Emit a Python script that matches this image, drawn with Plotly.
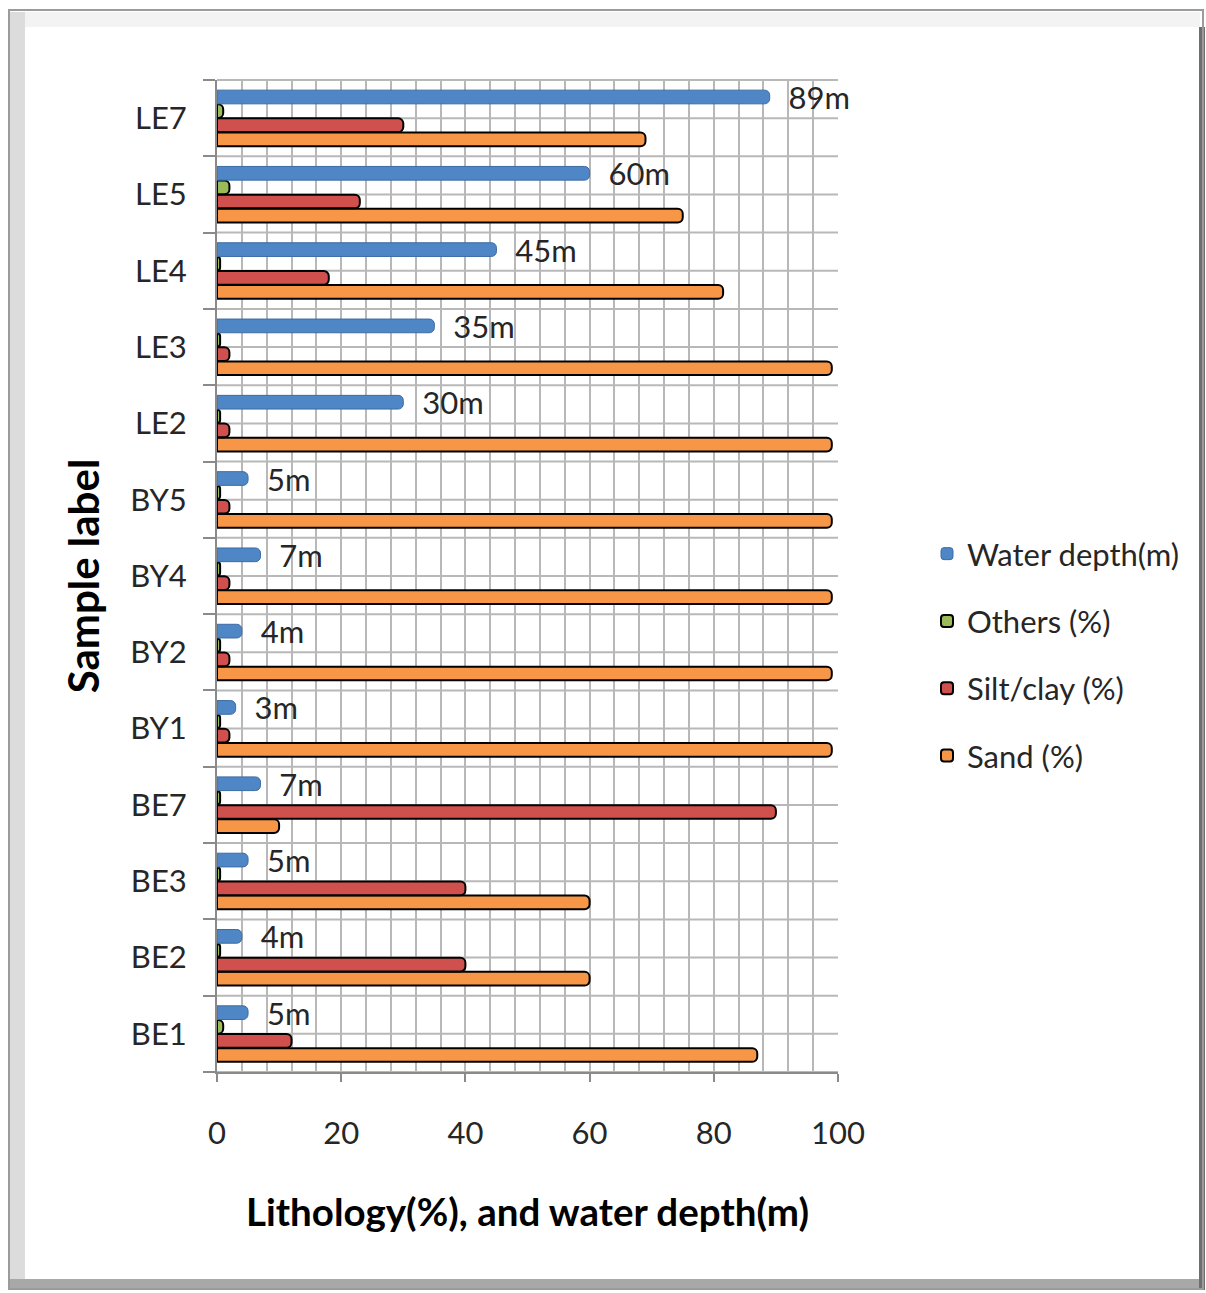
import plotly.graph_objects as go

# ---------------- data ----------------
categories = ["BE1", "BE2", "BE3", "BE7", "BY1", "BY2", "BY4", "BY5",
              "LE2", "LE3", "LE4", "LE5", "LE7"]
sand = [87, 60, 60, 10, 99, 99, 99, 99, 99, 99, 81.5, 75, 69]
silt_clay = [12, 40, 40, 90, 2, 2, 2, 2, 2, 2, 18, 23, 30]
others = [1, 0.5, 0.5, 0.5, 0.5, 0.5, 0.5, 0.5, 0.5, 0.5, 0.5, 2, 1]
water_depth = [5, 4, 5, 7, 3, 4, 7, 5, 30, 35, 45, 60, 89]
x_ticks = [0, 20, 40, 60, 80, 100]

# ---------------- style ----------------
W, H = 1206, 1293
L, R, T, B = 217, 838, 80, 1072   # plot area pixel box
FONT = "Lato, Arial, sans-serif"
TXT = "#262626"
GRID = "#b8b8b8"

def px(x):
    return (x - L) / (R - L)

def py(y):
    return (B - y) / (B - T)

fig = go.Figure()

series = [
    ("Sand (%)", sand, "#F79646", "#000000", 2, 4),
    ("Silt/clay (%)", silt_clay, "#D0504D", "#000000", 2, 3),
    ("Others (%)", others, "#9BBB59", "#000000", 2, 2),
    ("Water depth(m)", water_depth, "#4F86C6", "#3C6BA5", 1, 1),
]
for name, vals, col, lcol, lw, rank in series:
    kw = {}
    if name.startswith("Water"):
        kw = dict(text=["\u00a0\u00a0%gm" % v for v in vals],
                  textposition="outside", constraintext="none",
                  outsidetextfont=dict(family=FONT, size=31, color=TXT),
                  cliponaxis=False)
    fig.add_trace(go.Bar(
        y=categories, x=vals, orientation="h", name=name,
        legendgroup=name, legendrank=rank,
        marker=dict(color=col, line=dict(color=lcol, width=lw), cornerradius=5),
        **kw))

n = len(categories)
fig.update_layout(
    width=W, height=H,
    margin=dict(l=L, r=W - R, t=T, b=H - B, autoexpand=False),
    paper_bgcolor="white", plot_bgcolor="white",
    barmode="group", bargap=0.26, bargroupgap=0.03,
    showlegend=True,
    legend=dict(x=px(927), y=py(655), xanchor="left", yanchor="middle",
                traceorder="grouped", tracegroupgap=24,
                font=dict(family=FONT, size=31, color=TXT),
                bgcolor="rgba(0,0,0,0)"),
    font=dict(family=FONT, color=TXT),
    xaxis=dict(range=[0, 100], tickvals=x_ticks, showgrid=True,
               gridcolor=GRID, gridwidth=2,
               minor=dict(dtick=4, showgrid=True, gridcolor=GRID, gridwidth=2),
               showline=True, linecolor="#8a8a8a", linewidth=2,
               ticks="outside", ticklen=8, tickcolor="#8a8a8a", tickwidth=2,
               ticklabelstandoff=25,
               tickfont=dict(family=FONT, size=31, color=TXT),
               zeroline=False,
               title=dict(text="<b>Lithology(%), and water depth(m)</b>",
                          font=dict(family=FONT, size=38.5, color="#000000"),
                          standoff=49)),
    yaxis=dict(type="category", categoryorder="array", categoryarray=categories,
               showgrid=False, tickson="boundaries",
               showline=True, linecolor="#8a8a8a", linewidth=2,
               ticks="outside", ticklen=12, tickcolor="#8a8a8a", tickwidth=2,
               ticklabelstandoff=22,
               tickfont=dict(family=FONT, size=31, color=TXT),
               title=dict(text="<b>Sample label</b>",
                          font=dict(family=FONT, size=42, color="#000000"),
                          standoff=17)),
)

# ---------------- horizontal grid (category boundaries and mid-lines) ----------------
shapes = []
for k in range(2 * n + 1):
    yy = k / (2 * n)
    shapes.append(dict(type="line", xref="paper", yref="paper", x0=0, x1=1,
                       y0=yy, y1=yy, line=dict(color=GRID, width=2), layer="below"))

# ---------------- chart frame (bevelled border) ----------------
frame = [
    dict(type="rect", x0=px(10), x1=px(25), y0=py(12), y1=py(1280),
         fillcolor="#dcdcdc", line=dict(width=0)),
    dict(type="rect", x0=px(25), x1=px(1200), y0=py(12), y1=py(27),
         fillcolor="#f3f3f3", line=dict(width=0)),
    dict(type="rect", x0=px(10), x1=px(1203), y0=py(1279), y1=py(1290),
         fillcolor="#a8a8a8", line=dict(width=0)),
    dict(type="rect", x0=px(1199), x1=px(1205), y0=py(27), y1=py(1290),
         fillcolor="#6e6e6e", line=dict(width=0)),
    dict(type="rect", x0=px(9), x1=px(1203), y0=py(10), y1=py(1289),
         line=dict(color="#9b9b9b", width=2), fillcolor="rgba(0,0,0,0)"),
]
for s in frame:
    s.update(xref="paper", yref="paper", layer="below")
fig.update_layout(shapes=shapes + frame)

fig.write_html("out.html",
               config={"displayModeBar": False},
               post_script="document.body.style.margin='0';"
                           "document.body.style.overflow='hidden';")
